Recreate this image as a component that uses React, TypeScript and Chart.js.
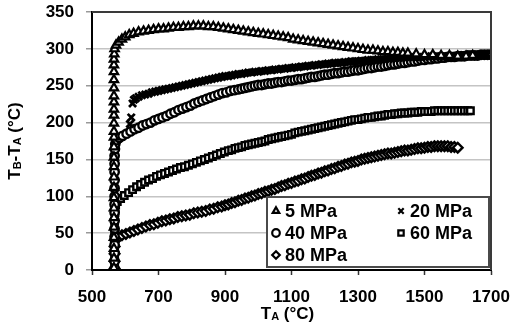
import { useEffect, useRef } from 'react';
import { Chart, registerables } from 'chart.js';
import { drawPoint } from 'chart.js/helpers';

Chart.register(...registerables);

// Temperature difference TB-TA (°C) against TA (°C) for each applied pressure.
const mpa5: [number, number][] = [
  [566, 3], [566, 16], [566, 29], [566, 44], [566, 58], [566, 71], [566, 84], [566, 98], [566, 112], [566, 126],
  [566, 140], [566, 153], [566, 167], [566, 180], [566, 188], [566, 199], [566, 210], [566, 218], [566, 228], [566, 236],
  [566, 247], [566, 258], [566, 269], [566, 278], [566, 286], [567, 293], [568, 300],
  [572, 305], [580, 309], [590, 313], [600, 316], [612, 319], [625, 321], [640, 323], [655, 324], [670, 325], [685, 326],
  [700, 327], [715, 327], [730, 328], [745, 329], [760, 329], [775, 330], [790, 330], [805, 331], [820, 331], [835, 331],
  [850, 330], [865, 330], [880, 329], [895, 328], [910, 327], [925, 326], [940, 325], [955, 324], [970, 323], [985, 322],
  [1000, 321], [1015, 320], [1030, 319], [1045, 318], [1060, 317], [1075, 316], [1090, 315], [1105, 313], [1120, 312],
  [1135, 311], [1150, 310], [1165, 309], [1180, 308], [1195, 307], [1210, 306], [1225, 305], [1240, 304], [1255, 303],
  [1270, 302], [1285, 301], [1300, 300], [1315, 299], [1330, 298], [1345, 298], [1360, 297], [1375, 296], [1390, 296],
  [1405, 295], [1420, 295], [1435, 294], [1450, 294], [1475, 293], [1500, 292], [1525, 292], [1550, 291], [1575, 291],
  [1600, 290], [1625, 290], [1645, 291],
];

const mpa20: [number, number][] = [
  [614, 198], [618, 207], [622, 226], [626, 231], [632, 233], [640, 235], [650, 237], [660, 238], [670, 239], [680, 241],
  [690, 242], [700, 243], [710, 244], [720, 245], [730, 246], [740, 247], [750, 248], [760, 249], [770, 250], [780, 251],
  [790, 252], [800, 253], [810, 254], [820, 255], [830, 256], [840, 257], [850, 258], [860, 259], [870, 260], [880, 261],
  [890, 262], [900, 263], [910, 263], [920, 264], [930, 265], [940, 266], [950, 266], [960, 267], [970, 268], [980, 268],
  [990, 269], [1000, 269], [1010, 270], [1020, 270], [1030, 271], [1040, 271], [1050, 272], [1060, 272], [1070, 273],
  [1080, 273], [1090, 274], [1100, 274], [1110, 275], [1120, 275], [1130, 276], [1140, 276], [1150, 277], [1160, 277],
  [1170, 278], [1180, 278], [1190, 279], [1200, 279], [1210, 280], [1220, 280], [1230, 281], [1240, 281], [1250, 281],
  [1260, 282], [1270, 282], [1280, 283], [1290, 283], [1300, 283], [1310, 284], [1320, 284], [1330, 285], [1340, 285],
  [1350, 285], [1360, 286], [1370, 286], [1380, 286], [1390, 287], [1400, 287], [1410, 287], [1420, 288], [1430, 288],
  [1440, 288], [1450, 289], [1460, 289], [1470, 289], [1480, 289], [1490, 289], [1500, 289], [1510, 290], [1520, 290],
  [1530, 290], [1540, 290], [1550, 290], [1560, 290], [1570, 290], [1580, 290], [1590, 290], [1600, 290], [1610, 291],
  [1620, 291], [1630, 291], [1640, 291], [1650, 291], [1660, 292], [1670, 292], [1680, 292], [1690, 292],
];

const mpa40: [number, number][] = [
  [568, 2], [568, 12], [568, 23], [568, 34], [568, 45], [568, 56], [568, 67], [568, 78], [568, 89], [568, 100],
  [568, 111], [568, 122], [568, 133], [568, 144], [568, 155], [569, 164], [570, 171],
  [574, 176], [582, 179], [592, 182], [604, 185], [616, 188], [628, 191], [640, 193], [652, 196], [664, 198], [676, 200],
  [688, 203], [700, 205], [712, 207], [724, 209], [736, 212], [748, 214], [760, 217], [772, 219], [784, 221], [796, 223],
  [808, 226], [820, 228], [832, 230], [844, 232], [856, 234], [868, 236], [880, 238], [892, 240], [904, 241], [916, 243],
  [928, 244], [940, 245], [950, 246], [960, 247], [970, 248], [980, 249], [990, 250], [1000, 251], [1010, 251],
  [1020, 252], [1030, 253], [1040, 253], [1050, 254], [1060, 255], [1070, 255], [1080, 256], [1090, 257], [1100, 257],
  [1110, 258], [1120, 259], [1130, 259], [1140, 260], [1150, 261], [1160, 262], [1170, 262], [1180, 263], [1190, 264],
  [1200, 265], [1210, 265], [1220, 266], [1230, 267], [1240, 267], [1250, 268], [1260, 269], [1270, 269], [1280, 270],
  [1290, 271], [1300, 271], [1310, 272], [1320, 273], [1330, 274], [1340, 274], [1350, 275], [1360, 276], [1370, 276],
  [1380, 277], [1390, 278], [1400, 279], [1410, 279], [1420, 280], [1430, 281], [1440, 281], [1450, 282], [1460, 283],
  [1470, 283], [1480, 284], [1490, 285], [1500, 285], [1510, 286], [1520, 286], [1530, 287], [1540, 287], [1550, 288],
  [1560, 288], [1570, 289], [1580, 289], [1590, 289], [1600, 290], [1610, 290], [1620, 290], [1630, 291], [1640, 291],
  [1650, 291], [1660, 291], [1670, 292], [1680, 292], [1690, 292], [1700, 292],
];

const mpa60: [number, number][] = [
  [568, 2], [568, 14], [568, 27], [568, 40], [568, 53], [568, 66], [569, 78], [571, 88],
  [576, 93], [586, 97], [597, 101], [610, 105], [622, 109], [634, 113], [646, 116], [658, 119], [670, 122], [682, 124],
  [694, 127], [706, 129], [718, 131], [730, 133], [742, 135], [754, 137], [766, 139], [778, 140], [790, 142], [802, 144],
  [814, 146], [826, 148], [838, 150], [850, 152], [862, 154], [874, 156], [886, 158], [898, 160], [910, 162], [920, 163],
  [930, 165], [940, 166], [950, 167], [960, 169], [970, 170], [980, 171], [990, 172], [1000, 173], [1010, 174],
  [1020, 175], [1030, 177], [1040, 178], [1050, 179], [1060, 180], [1070, 181], [1080, 182], [1090, 183], [1100, 184],
  [1110, 186], [1120, 187], [1130, 188], [1140, 189], [1150, 190], [1160, 191], [1170, 192], [1180, 193], [1190, 194],
  [1200, 195], [1210, 196], [1220, 197], [1230, 198], [1240, 199], [1250, 200], [1260, 201], [1270, 202], [1280, 203],
  [1290, 204], [1300, 204], [1310, 205], [1320, 206], [1330, 207], [1340, 207], [1350, 208], [1360, 209], [1370, 209],
  [1380, 210], [1390, 211], [1400, 211], [1410, 212], [1420, 212], [1430, 213], [1440, 213], [1450, 213], [1460, 214],
  [1470, 214], [1480, 214], [1490, 215], [1500, 215], [1510, 215], [1520, 215], [1530, 216], [1540, 216], [1550, 216],
  [1560, 216], [1570, 216], [1580, 216], [1590, 216], [1600, 216], [1610, 216], [1620, 216], [1630, 216], [1638, 216],
];

const mpa80: [number, number][] = [
  [568, 2], [568, 12], [568, 22], [568, 32], [570, 40],
  [578, 44], [590, 47], [602, 49], [614, 51], [626, 53], [638, 55], [650, 57], [662, 59], [674, 61], [686, 62],
  [698, 64], [710, 66], [722, 67], [734, 69], [746, 70], [758, 72], [770, 73], [782, 74], [794, 75], [806, 77],
  [818, 78], [830, 79], [842, 80], [854, 82], [866, 83], [878, 85], [890, 86], [900, 88], [910, 89], [920, 91],
  [930, 92], [940, 94], [950, 95], [960, 97], [970, 98], [980, 100], [990, 101], [1000, 103], [1010, 104], [1020, 106],
  [1030, 107], [1040, 109], [1050, 110], [1060, 112], [1070, 114], [1080, 115], [1090, 117], [1100, 118], [1110, 120],
  [1120, 121], [1130, 123], [1140, 124], [1150, 126], [1160, 128], [1170, 129], [1180, 131], [1190, 132], [1200, 134],
  [1210, 135], [1220, 137], [1230, 138], [1240, 140], [1250, 141], [1260, 143], [1270, 144], [1280, 146], [1290, 147],
  [1300, 148], [1310, 150], [1320, 151], [1330, 152], [1340, 153], [1350, 154], [1360, 155], [1370, 156], [1380, 157],
  [1390, 158], [1400, 158], [1410, 159], [1420, 160], [1430, 161], [1440, 162], [1450, 162], [1460, 163], [1470, 164],
  [1480, 165], [1490, 165], [1500, 166], [1510, 167], [1520, 167], [1530, 168], [1540, 168], [1550, 168], [1560, 168],
  [1570, 168], [1580, 167], [1590, 167], [1600, 166],
];

const seriesLabels = ['5 MPa', '20 MPa', '40 MPa', '60 MPa', '80 MPa'];
const xTicks = [500, 700, 900, 1100, 1300, 1500, 1700];
const yTicks = [0, 50, 100, 150, 200, 250, 300, 350];

const FONT = '"Liberation Sans", Arial, Helvetica, sans-serif';

type Part = { text: string; size: number; dy?: number };

function measureParts(ctx: CanvasRenderingContext2D, parts: Part[]) {
  let w = 0;
  for (const p of parts) {
    ctx.font = `bold ${p.size}px ${FONT}`;
    w += ctx.measureText(p.text).width;
  }
  return w;
}

function drawParts(ctx: CanvasRenderingContext2D, parts: Part[], cx: number, baseline: number) {
  const total = measureParts(ctx, parts);
  let x = cx - total / 2;
  ctx.textAlign = 'left';
  ctx.textBaseline = 'alphabetic';
  for (const p of parts) {
    ctx.font = `bold ${p.size}px ${FONT}`;
    ctx.fillText(p.text, x, baseline + (p.dy ?? 0));
    x += ctx.measureText(p.text).width;
  }
}

const markerStyles = [
  { pointStyle: 'triangle', radius: 4.8, borderWidth: 2.2 },
  { pointStyle: 'crossRot', radius: 5, borderWidth: 2.8 },
  { pointStyle: 'circle', radius: 4.2, borderWidth: 2.4 },
  { pointStyle: 'rect', radius: 4.6, borderWidth: 2.4 },
  { pointStyle: 'rectRot', radius: 4.8, borderWidth: 2.4 },
];

// squeeze out the label overhang so the plot area is set only by the layout padding
const noOverhang = (s: any) => {
  s.paddingTop = 0;
  s.paddingBottom = 0;
  s.paddingLeft = 0;
  s.paddingRight = 0;
};

const framePlugin = {
  id: 'frameAndTitles',
  afterDraw(chart: any) {
    const { ctx, chartArea } = chart;
    const { left, right, top, bottom } = chartArea;
    ctx.save();
    // top and right frame lines
    ctx.strokeStyle = '#3a3a3a';
    ctx.lineWidth = 2;
    ctx.beginPath();
    ctx.moveTo(left, top);
    ctx.lineTo(right, top);
    ctx.lineTo(right, bottom);
    ctx.stroke();

    // legend box inside the plot, bottom right
    const bw = 222;
    const bh = 70;
    const bx = right - 2 - bw;
    const by = bottom - 3 - bh;
    ctx.fillStyle = '#ffffff';
    ctx.fillRect(bx, by, bw, bh);
    ctx.strokeStyle = '#4a4a4a';
    ctx.lineWidth = 2;
    ctx.strokeRect(bx, by, bw, bh);

    const cols = [bx + 9, bx + 134];
    const rows = [by + 14, by + 36, by + 58];
    const slots = [
      [0, 0], [1, 0], [0, 1], [1, 1], [0, 2],
    ];
    seriesLabels.forEach((label, i) => {
      const [c, r] = slots[i];
      const mx = cols[c];
      const my = rows[r];
      const m = markerStyles[i];
      ctx.save();
      ctx.fillStyle = '#ffffff';
      ctx.strokeStyle = '#000';
      ctx.lineWidth = 2.2;
      drawPoint(ctx, { pointStyle: m.pointStyle as any, radius: 3.8, borderWidth: 2.2, rotation: 0 }, mx, my);
      ctx.restore();
      ctx.fillStyle = '#000';
      ctx.font = `bold 18px ${FONT}`;
      ctx.textAlign = 'left';
      ctx.textBaseline = 'middle';
      ctx.fillText(label, mx + 9, my + 1);
    });

    // axis titles with subscripts
    ctx.fillStyle = '#000';
    drawParts(
      ctx,
      [
        { text: 'T', size: 17 },
        { text: 'A', size: 11, dy: 1 },
        { text: ' (°C)', size: 17 },
      ],
      (left + right) / 2 - 4,
      bottom + 49,
    );

    ctx.save();
    ctx.translate(20, (top + bottom) / 2);
    ctx.rotate(-Math.PI / 2);
    drawParts(
      ctx,
      [
        { text: 'T', size: 17 },
        { text: 'B', size: 11, dy: 1 },
        { text: '-T', size: 17 },
        { text: 'A', size: 11, dy: 1 },
        { text: ' (°C)', size: 17 },
      ],
      0,
      0,
    );
    ctx.restore();
    ctx.restore();
  },
};

export default function App() {
  const canvasRef = useRef<HTMLCanvasElement | null>(null);

  useEffect(() => {
    const canvas = canvasRef.current;
    if (!canvas) return;
    const all = [mpa5, mpa20, mpa40, mpa60, mpa80];
    const datasets = all.map((series, i) => ({
      label: seriesLabels[i],
      data: series.map(([x, y]) => ({ x, y })),
      showLine: false,
      pointStyle: markerStyles[i].pointStyle as any,
      pointRadius: markerStyles[i].radius,
      pointBorderWidth: markerStyles[i].borderWidth,
      pointBackgroundColor: '#ffffff',
      pointBorderColor: '#000000',
      pointHoverRadius: markerStyles[i].radius,
    }));

    const chart = new Chart(canvas, {
      type: 'scatter',
      data: { datasets },
      options: {
        animation: false,
        responsive: false,
        devicePixelRatio: 1,
        events: [],
        layout: { padding: { top: 12, right: 19, left: 0, bottom: 0 } },
        plugins: {
          legend: { display: false },
          tooltip: { enabled: false },
        },
        scales: {
          x: {
            type: 'linear',
            min: 500,
            max: 1700,
            afterFit: (s: any) => {
              s.height = 56;
              noOverhang(s);
            },
            afterBuildTicks: (s: any) => {
              s.ticks = xTicks.map((v) => ({ value: v }));
            },
            border: { display: true, color: '#000', width: 2 },
            grid: {
              drawOnChartArea: false,
              drawTicks: true,
              tickLength: 5,
              tickColor: '#333',
              tickWidth: 1.5,
            },
            ticks: {
              color: '#000',
              padding: 12,
              maxRotation: 0,
              callback: (v: any) => String(v),
              font: { family: FONT, size: 17, weight: 'bold' },
            },
          },
          y: {
            type: 'linear',
            min: 0,
            max: 350,
            afterFit: (s: any) => {
              s.width = 92;
              noOverhang(s);
            },
            afterBuildTicks: (s: any) => {
              s.ticks = yTicks.map((v) => ({ value: v }));
            },
            border: { display: true, color: '#000', width: 2 },
            grid: {
              color: '#c4c4c4',
              lineWidth: 1.5,
              drawTicks: true,
              tickLength: 6,
              tickColor: '#999',
            },
            ticks: {
              color: '#000',
              padding: 12,
              callback: (v: any) => String(v),
              font: { family: FONT, size: 17, weight: 'bold' },
            },
          },
        },
      },
      plugins: [framePlugin],
    });

    return () => chart.destroy();
  }, []);

  return (
    <div style={{ position: 'absolute', left: 0, top: 0, width: 510, height: 326, background: '#fff' }}>
      <canvas ref={canvasRef} width={510} height={326} style={{ display: 'block' }} />
    </div>
  );
}
